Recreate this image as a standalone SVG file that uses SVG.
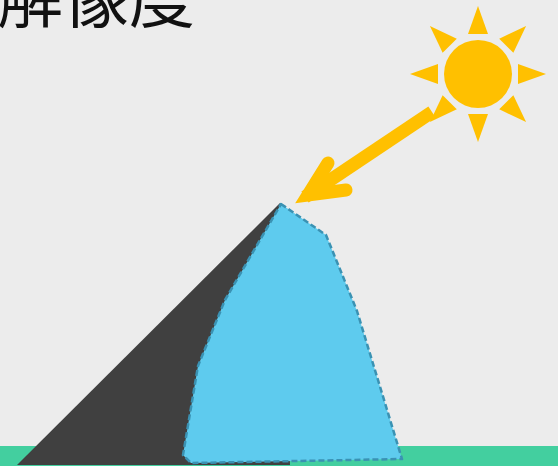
<svg xmlns="http://www.w3.org/2000/svg" width="558" height="466" viewBox="0 0 558 466">
  <defs>
    <style>
      .title { font-family: "Noto Sans CJK JP", "Noto Sans CJK SC", sans-serif; font-size: 66px; font-weight: 400; fill: #111111; }
      .sun { fill: #ffc000; }
      .ray { fill: #ffc000; }
      .beam { fill: none; stroke: #ffc000; stroke-width: 13; }
      .ground { fill: #43cf9f; }
      .shadow { fill: #404040; }
      .ice { fill: #5ecbee; stroke: #3a92b3; stroke-width: 2.5; stroke-dasharray: 6 3; stroke-linejoin: round; }
    </style>
    <polygon id="sunray" class="ray" points="-10,-40 10,-40 0,-68"/>
  </defs>

  <rect width="558" height="466" fill="#ececec"/>

  <text class="title" x="-3" y="22">解像度</text>

  <g id="ground">
    <rect class="ground" x="0" y="446" width="558" height="20"/>
  </g>

  <g id="mountain">
    <polygon class="shadow" points="280,203 17,465 290,465"/>
  </g>

  <g id="glacier">
    <polygon class="ice" points="281,204 326,235 357,311 402,459 191,463 183,455 198,366 225,300"/>
  </g>

  <g id="sun" transform="translate(478,74)">
    <circle class="sun" r="34"/>
    <use href="#sunray"/>
    <use href="#sunray" transform="rotate(45)"/>
    <use href="#sunray" transform="rotate(90)"/>
    <use href="#sunray" transform="rotate(135)"/>
    <use href="#sunray" transform="rotate(180)"/>
    <use href="#sunray" transform="rotate(225)"/>
    <use href="#sunray" transform="rotate(270)"/>
    <use href="#sunray" transform="rotate(315)"/>
  </g>

  <g id="connectors">
    <!-- sunlight beam from the sun to the peak -->
    <line class="beam" x1="432" y1="112" x2="305" y2="197" stroke-linecap="butt"/>
    <polyline class="beam" points="328,163 308,195 346,190" stroke-linecap="round" stroke-linejoin="miter"/>
  </g>
</svg>
